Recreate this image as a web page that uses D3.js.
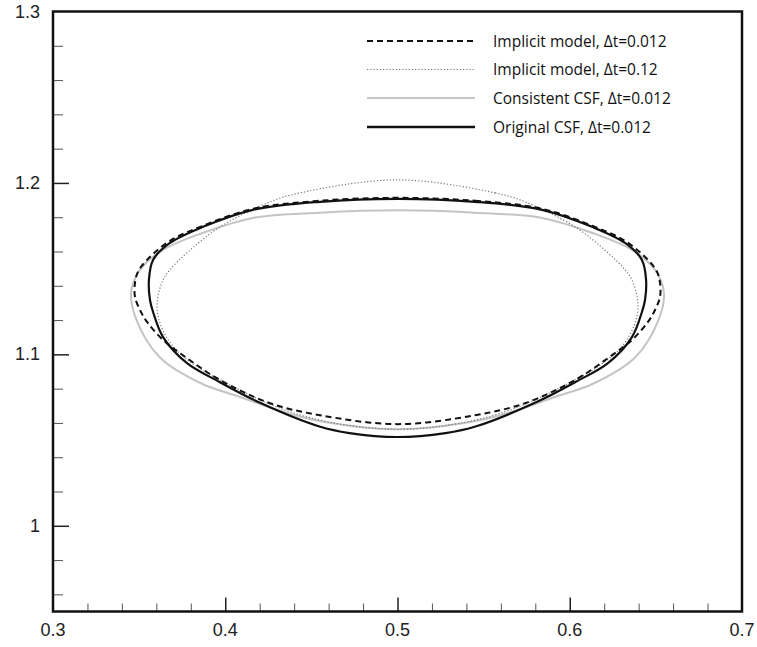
<!DOCTYPE html>
<html>
<head>
<meta charset="utf-8">
<script src="https://cdn.jsdelivr.net/npm/d3@7"></script>
<style>
  html, body { margin: 0; padding: 0; background: #fff; }
  svg { display: block; }
</style>
</head>
<body>
<svg id="chart" width="757" height="647"></svg>
<script>
// ---- data ----
const xTicks = [0.3, 0.4, 0.5, 0.6, 0.7];
const yTicks = [1, 1.1, 1.2, 1.3];
const yTickLabels = ["1", "1.1", "1.2", "1.3"];
const xTickLabels = ["0.3", "0.4", "0.5", "0.6", "0.7"];

const seriesNames = [
  "Implicit model, \u0394t=0.012",
  "Implicit model, \u0394t=0.12",
  "Consistent CSF, \u0394t=0.012",
  "Original CSF, \u0394t=0.012"
];

// Implicit model, dt=0.012 (dashed)
const implicit012 = [
  [0.5, 1.1913], [0.545, 1.1896], [0.5839, 1.1849], [0.6129, 1.1750], [0.6321, 1.1662],
  [0.6454, 1.1551], [0.6507, 1.1481], [0.6524, 1.1417], [0.6524, 1.1335], [0.6495, 1.1259],
  [0.6454, 1.1189], [0.6361, 1.1084], [0.6222, 1.0978], [0.6030, 1.0850], [0.5740, 1.0715],
  [0.545, 1.0645], [0.5, 1.0593], [0.455, 1.0645], [0.426, 1.0715], [0.397, 1.0850],
  [0.3778, 1.0978], [0.3639, 1.1084], [0.3546, 1.1189], [0.3505, 1.1259], [0.3476, 1.1335],
  [0.3476, 1.1417], [0.3493, 1.1481], [0.3546, 1.1551], [0.3679, 1.1662], [0.3871, 1.1750],
  [0.4161, 1.1849], [0.455, 1.1896]
];

// Implicit model, dt=0.12 (dotted)
const implicit12 = [
  [0.5, 1.2018], [0.5566, 1.1942], [0.574, 1.1890], [0.603, 1.1744], [0.6222, 1.1592],
  [0.6321, 1.1493], [0.6361, 1.1434], [0.6396, 1.1300], [0.6379, 1.1183], [0.6309, 1.1054],
  [0.6176, 1.0937], [0.5972, 1.0821], [0.5682, 1.0686], [0.5392, 1.0604], [0.5, 1.0563],
  [0.4608, 1.0604], [0.4318, 1.0686], [0.4028, 1.0821], [0.3824, 1.0937], [0.3691, 1.1054],
  [0.3621, 1.1183], [0.3604, 1.1300], [0.3639, 1.1434], [0.3679, 1.1493], [0.3778, 1.1592],
  [0.397, 1.1744], [0.426, 1.1890], [0.4434, 1.1942]
];

// Consistent CSF, dt=0.012 (light grey)
const consistentCSF = [
  [0.5, 1.1840], [0.545, 1.1826], [0.5839, 1.1796], [0.6129, 1.1709], [0.6361, 1.1609],
  [0.6495, 1.1493], [0.6547, 1.1358], [0.6515, 1.1200], [0.6382, 1.0985], [0.6132, 1.0827],
  [0.5929, 1.0757], [0.5697, 1.0675], [0.5453, 1.0611], [0.5, 1.0563], [0.4547, 1.0611],
  [0.4303, 1.0675], [0.4071, 1.0757], [0.3868, 1.0827], [0.3618, 1.0985], [0.3485, 1.1200],
  [0.3453, 1.1358], [0.3505, 1.1493], [0.3639, 1.1609], [0.3871, 1.1709], [0.4161, 1.1796],
  [0.455, 1.1826]
];

// Original CSF, dt=0.012 (solid black)
const originalCSF = [
  [0.5, 1.1907], [0.545, 1.1890], [0.5839, 1.1843], [0.6129, 1.1744], [0.6321, 1.1650],
  [0.6419, 1.1551], [0.6443, 1.1434], [0.6437, 1.1317], [0.6419, 1.1247], [0.6361, 1.1101],
  [0.6222, 1.0949], [0.6033, 1.0839], [0.5801, 1.0719], [0.5453, 1.0579], [0.5279, 1.0541],
  [0.5, 1.0518], [0.4721, 1.0541], [0.4547, 1.0579], [0.4199, 1.0719], [0.3967, 1.0839],
  [0.3778, 1.0949], [0.3639, 1.1101], [0.3581, 1.1247], [0.3563, 1.1317], [0.3557, 1.1434],
  [0.3581, 1.1551], [0.3679, 1.1650], [0.3871, 1.1744], [0.4161, 1.1843], [0.455, 1.1890]
];

// ---- layout ----
const svg = d3.select("#chart");
const L = 53, R = 742, T = 11.5, B = 611.5;
const x = d3.scaleLinear().domain([0.3, 0.7]).range([L, R]);
const y = d3.scaleLinear().domain([0.95, 1.3]).range([B, T]);

const line = d3.line().x(d => x(d[0])).y(d => y(d[1])).curve(d3.curveCatmullRomClosed.alpha(0.5));

const styles = [
  { data: implicit012, stroke: "#111", width: 2, dash: "6,4" },
  { data: implicit12, stroke: "#777", width: 1.2, dash: "1.2,2" },
  { data: consistentCSF, stroke: "#c4c4c4", width: 2, dash: null },
  { data: originalCSF, stroke: "#111", width: 2.2, dash: null }
];

const plot = svg.append("g");
// draw grey first, then dotted, dashed, solid
[2, 1, 0, 3].forEach(i => {
  const s = styles[i];
  plot.append("path")
    .attr("d", line(s.data))
    .attr("fill", "none")
    .attr("stroke", s.stroke)
    .attr("stroke-width", s.width)
    .attr("stroke-dasharray", s.dash);
});

// ---- axes ----
const minorX = d3.range(0.32, 0.7, 0.02).filter(v => Math.abs(v * 10 - Math.round(v * 10)) > 1e-6);
const minorY = d3.range(0.96, 1.3, 0.02).filter(v => Math.abs(v * 10 - Math.round(v * 10)) > 1e-6);

const xAxisMajor = d3.axisBottom(x).tickValues(xTicks.slice(1, -1)).tickSize(-14).tickFormat("");
const xAxisMinor = d3.axisBottom(x).tickValues(minorX).tickSize(-8).tickFormat("");
const yAxisMajor = d3.axisLeft(y).tickValues(yTicks.slice(0, -1)).tickSize(-16).tickFormat("");
const yAxisMinor = d3.axisLeft(y).tickValues(minorY).tickSize(-10).tickFormat("");

function styleAxis(g) {
  g.select(".domain").remove();
  g.selectAll(".tick line").attr("stroke", "#222").attr("stroke-width", 1.5);
}
svg.append("g").attr("transform", `translate(0,${B})`).call(xAxisMinor).call(styleAxis)
  .selectAll(".tick line").attr("stroke", "#555").attr("stroke-width", 1);
svg.append("g").attr("transform", `translate(0,${B})`).call(xAxisMajor).call(styleAxis);
svg.append("g").attr("transform", `translate(${L},0)`).call(yAxisMinor).call(styleAxis)
  .selectAll(".tick line").attr("stroke", "#555").attr("stroke-width", 1);
svg.append("g").attr("transform", `translate(${L},0)`).call(yAxisMajor).call(styleAxis);

// frame
svg.append("rect").attr("x", L).attr("y", T).attr("width", R - L).attr("height", B - T)
  .attr("fill", "none").attr("stroke", "#111").attr("stroke-width", 2.5);

// tick labels
svg.append("g").selectAll("text").data(xTicks).join("text")
  .attr("x", d => x(d)).attr("y", 636)
  .attr("text-anchor", "middle")
  .attr("font-family", "Liberation Sans, Arial, sans-serif")
  .attr("font-size", 18).attr("fill", "#222")
  .text((d, i) => xTickLabels[i]);

svg.append("g").selectAll("text").data(yTicks).join("text")
  .attr("x", 40).attr("y", d => y(d) + 6)
  .attr("text-anchor", "end")
  .attr("font-family", "Liberation Sans, Arial, sans-serif")
  .attr("font-size", 18).attr("fill", "#222")
  .text((d, i) => yTickLabels[i]);

// legend
const legY = [41, 69.5, 98, 127];
const leg = svg.append("g");
styles.forEach((s, i) => {
  leg.append("line")
    .attr("x1", 367).attr("x2", 475).attr("y1", legY[i]).attr("y2", legY[i])
    .attr("stroke", s.stroke).attr("stroke-width", i === 3 ? 2.5 : s.width)
    .attr("stroke-dasharray", s.dash);
  leg.append("text")
    .attr("x", 493).attr("y", legY[i] + 5.5)
    .attr("font-family", "Open Sans, sans-serif")
    .attr("font-size", 15.5).attr("fill", "#111")
    .text(seriesNames[i]);
});
</script>
</body>
</html>
